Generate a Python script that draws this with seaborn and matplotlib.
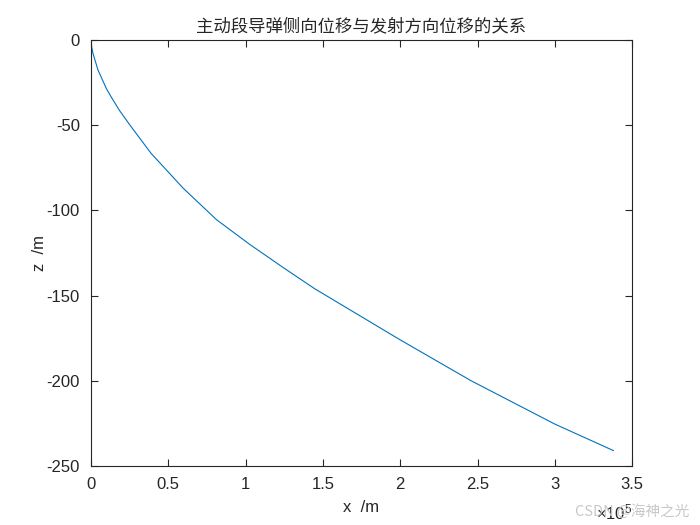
import matplotlib
matplotlib.use('Agg')
import matplotlib.pyplot as plt
import matplotlib.ticker as mticker
import seaborn as sns

# 主动段导弹: 侧向位移 z 随发射方向位移 x 的变化 (数值读自原图)
x_m = [0, 400, 1300, 4500, 9900, 13400, 18500, 25200, 38800, 59600, 81200,
       102700, 124200, 144700, 200000, 245900, 300000, 338000]
z_m = [0, -4.0, -8.0, -17.6, -28.5, -34.0, -41.5, -50.0, -66.5, -87.0, -105.5,
       -120.0, -133.5, -146.0, -176.0, -200.0, -225.4, -241.0]

x_ticks = [0, 50000, 100000, 150000, 200000, 250000, 300000, 350000]
z_ticks = [-250, -200, -150, -100, -50, 0]

sns.set_style('ticks')
plt.rcParams['font.family'] = ['Liberation Sans', 'Noto Sans CJK SC', 'DejaVu Sans']
plt.rcParams['axes.unicode_minus'] = False
plt.rcParams['mathtext.fontset'] = 'custom'
plt.rcParams['mathtext.rm'] = 'Liberation Sans'
plt.rcParams['mathtext.it'] = 'Liberation Sans'

fig = plt.figure(figsize=(7, 5.25), dpi=100)
ax = fig.add_axes([0.13, 0.1124, 0.773, 0.8116])

sns.lineplot(x=x_m, y=z_m, ax=ax, color='#0072BD', linewidth=0.8,
             estimator=None, sort=False)

ax.set_xlim(0, 350000)
ax.set_ylim(-250, 0)
ax.set_xticks(x_ticks)
ax.set_yticks(z_ticks)
ax.xaxis.set_major_formatter(mticker.FuncFormatter(lambda v, _: f'{v / 1e5:g}'))
ax.yaxis.set_major_formatter(mticker.FuncFormatter(lambda v, _: f'{v:g}'))

for side in ['top', 'right', 'bottom', 'left']:
    ax.spines[side].set_visible(True)
    ax.spines[side].set_color('#262626')
    ax.spines[side].set_linewidth(0.8)
ax.tick_params(direction='in', length=5, width=0.8, top=True, right=True,
               labelsize=12, colors='#262626', pad=8)

ax.set_xlabel('x  /m', fontsize=12, color='#262626', labelpad=6)
ax.set_ylabel('z  /m', fontsize=12, color='#262626', labelpad=0)
ax.set_title('主动段导弹侧向位移与发射方向位移的关系', fontsize=12.5,
             family=['Noto Sans CJK SC', 'DejaVu Sans'], color='#262626', pad=6)

# MATLAB 风格的 x 轴指数标注
fig.text(0.904, 0.011, '×10$^{5}$', ha='right', va='baseline', fontsize=12,
         color='#262626')

fig.text(0.985, 0.012, 'CSDN @海神之光', ha='right', va='bottom', fontsize=10.5,
         color='#c8c8c8', family=['Noto Sans CJK SC', 'DejaVu Sans'])

fig.savefig('out.png', dpi=100, facecolor='white')
